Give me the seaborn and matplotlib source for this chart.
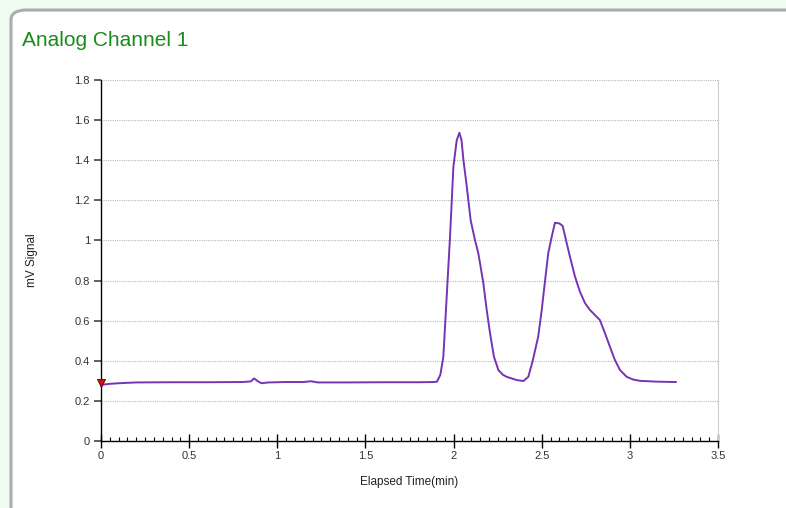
import numpy as np
import pandas as pd
import seaborn as sns
import matplotlib
matplotlib.use("Agg")
import matplotlib.pyplot as plt
from matplotlib.patches import FancyBboxPatch
from matplotlib.ticker import MultipleLocator

time_min = [0.0, 0.05, 0.1, 0.2, 0.4, 0.6, 0.8, 0.85, 0.868, 0.89, 0.91, 0.95, 1.05, 1.15, 1.19, 1.23,
            1.4, 1.6, 1.8, 1.89, 1.906, 1.925, 1.942, 1.961, 1.98, 1.999, 2.018, 2.033, 2.045,
            2.056, 2.075, 2.097, 2.122, 2.14, 2.15, 2.169, 2.188, 2.207, 2.229, 2.254, 2.28,
            2.301, 2.358, 2.396, 2.424, 2.45, 2.48, 2.50, 2.519, 2.537, 2.557, 2.575, 2.60,
            2.619, 2.642, 2.66, 2.689, 2.717, 2.746, 2.774, 2.802, 2.83, 2.859, 2.887, 2.915,
            2.944, 2.982, 3.02, 3.058, 3.15, 3.262]
signal_mv = [0.28, 0.285, 0.288, 0.292, 0.293, 0.293, 0.294, 0.297, 0.312, 0.298, 0.288, 0.292, 0.294, 0.294, 0.298, 0.292,
             0.292, 0.293, 0.293, 0.294, 0.296, 0.33, 0.42, 0.72, 1.02, 1.368, 1.50, 1.537, 1.50,
             1.40, 1.268, 1.10, 1.00, 0.937, 0.887, 0.786, 0.653, 0.537, 0.42, 0.354, 0.33,
             0.32, 0.304, 0.299, 0.32, 0.404, 0.52, 0.653, 0.80, 0.936, 1.019, 1.088, 1.085,
             1.072, 0.986, 0.919, 0.819, 0.744, 0.687, 0.653, 0.628, 0.603, 0.537, 0.47, 0.404,
             0.354, 0.32, 0.306, 0.30, 0.296, 0.294]
marker_x = [0.0]
marker_y = [0.29]

df = pd.DataFrame({"t": time_min, "s": signal_mv})

sns.set_theme(style="white")
plt.rcParams['font.family'] = ['Liberation Sans', 'DejaVu Sans']

fig = plt.figure(figsize=(7.86, 5.08), dpi=100)
fig.patch.set_facecolor('#effbef')
W, H = 786, 508
panel = FancyBboxPatch((11 / W, -0.05), 1.1, (508 - 10) / H + 0.05,
                       boxstyle="round,pad=0,rounding_size=0.02",
                       transform=fig.transFigure, facecolor='white',
                       edgecolor='#acacac', linewidth=2.2, zorder=-10)
fig.patches.append(panel)

ax = fig.add_axes([101 / W, 1 - 441 / H, 617 / W, 361 / H])
ax.set_facecolor('none')
ax.set_zorder(1)

sns.lineplot(data=df, x="t", y="s", ax=ax, color='#7335b3', linewidth=1.4)
ax.scatter(marker_x, marker_y, marker='v', s=34, color='#d01010', edgecolors='#600000',
           linewidths=0.6, zorder=5, clip_on=False)

ax.set_xlim(0, 3.5)
ax.set_ylim(0, 1.8)
ax.xaxis.set_minor_locator(MultipleLocator(0.05))
ax.set_xticks([0, 0.5, 1, 1.5, 2, 2.5, 3, 3.5])
ax.set_xticklabels(['0', '0.5', '1', '1.5', '2', '2.5', '3', '3.5'])
ax.set_yticks([0, 0.2, 0.4, 0.6, 0.8, 1.0, 1.2, 1.4, 1.6, 1.8])
ax.set_yticklabels(['0', '0.2', '0.4', '0.6', '0.8', '1', '1.2', '1.4', '1.6', '1.8'])

ax.grid(axis='y', color='#b8b8b8', linestyle=(0, (1, 1)), linewidth=0.8)
ax.grid(axis='x', visible=False)

ax.spines['top'].set_visible(False)
ax.spines['right'].set_color('#cccccc')
ax.spines['right'].set_linewidth(0.8)
ax.spines['left'].set_color('black')
ax.spines['bottom'].set_color('black')
ax.spines['left'].set_linewidth(1.0)
ax.spines['bottom'].set_linewidth(1.0)

ax.tick_params(axis='x', which='major', direction='inout', length=10, width=1, color='black',
               labelsize=8, labelcolor='#333333', pad=2, bottom=True)
ax.tick_params(axis='x', which='minor', direction='in', length=3, width=0.8, color='black', bottom=True)
ax.tick_params(axis='y', which='major', direction='out', length=5, width=1.2, color='#444444',
               labelsize=8, labelcolor='#333333', pad=3, left=True)

ax.set_xlabel('Elapsed Time(min)', fontsize=8.5, color='#222222', labelpad=11)
ax.set_ylabel('mV Signal', fontsize=8.5, color='#222222', labelpad=26)

fig.text(22 / W, 1 - 40 / H, 'Analog Channel 1', fontsize=15, color='#1a8c1a',
         va='center', ha='left')

fig.savefig('out.png', dpi=100, facecolor=fig.get_facecolor())
